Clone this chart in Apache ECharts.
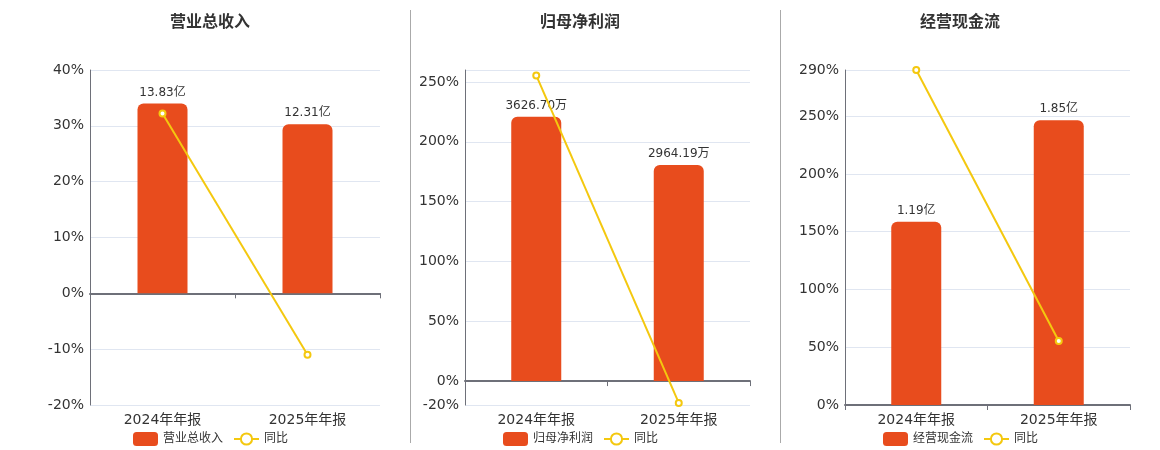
<!DOCTYPE html>
<html><head><meta charset="utf-8">
<script src="https://cdn.jsdelivr.net/npm/echarts@6/dist/echarts.min.js"></script>
<style>html,body{margin:0;padding:0;background:#fff}#c{width:1160px;height:450px}</style>
</head><body><div id="c"></div>
<script>
const categories = ['2024年年报', '2025年年报'];
const titles = ['营业总收入', '归母净利润', '经营现金流'];
const units = ['亿', '万', '亿'];
const revenue = [13.83, 12.31];
const netProfit = [3626.70, 2964.19];
const cashFlow = [1.19, 1.85];
const revenueYoY = [32.2, -10.99];
const netProfitYoY = [255.5, -18.27];
const cashFlowYoY = [290, 55.46];
const pctMin = [-20, -20, 0];
const pctMax = [40, 260, 290];

const barData = [revenue, netProfit, cashFlow];
const yoyData = [revenueYoY, netProfitYoY, cashFlowYoY];
const gridLeft = [90, 465, 845];
const gridWidth = [290, 285, 285];
const centers = [210, 580, 960];
const FONT = 'DejaVu Sans, "Noto Sans CJK SC", sans-serif';
const BAR = '#e84c1d', LINE = '#f4c80f';

const option = {
  animation: false,
  textStyle: {fontFamily: FONT},
  title: [], legend: [], grid: [], xAxis: [], yAxis: [], series: [],
  graphic: [
    {type: 'line', shape: {x1: 410.5, y1: 10, x2: 410.5, y2: 443}, style: {stroke: '#aaaaaa', lineWidth: 1}},
    {type: 'line', shape: {x1: 780.5, y1: 10, x2: 780.5, y2: 443}, style: {stroke: '#aaaaaa', lineWidth: 1}}
  ]
};

for (let i = 0; i < 3; i++) {
  const bmax = Math.max(...barData[i]) / 0.85;
  const bmin = bmax * pctMin[i] / pctMax[i];
  option.title.push({text: titles[i], left: centers[i], top: 15, textAlign: 'center', padding: 0,
    textStyle: {fontSize: 16, fontWeight: 'bold', color: '#333', fontFamily: FONT}});
  option.legend.push({data: [titles[i], '同比'], left: centers[i] - 82, top: 427,
    itemWidth: 25, itemHeight: 14, itemGap: 10,
    textStyle: {fontSize: 12, color: '#333', fontFamily: FONT}});
  option.grid.push({left: gridLeft[i], width: gridWidth[i], top: 70, height: 335});
  option.xAxis.push({type: 'category', gridIndex: i, data: categories,
    axisLine: {onZero: true, lineStyle: {color: '#6e7079', width: 2}},
    axisTick: {show: true, lineStyle: {color: '#6e7079'}},
    axisLabel: {fontSize: 14, color: '#333', margin: 8, fontFamily: FONT}});
  option.yAxis.push({type: 'value', gridIndex: i, min: pctMin[i], max: pctMax[i],
    axisLine: {show: true, lineStyle: {color: '#6e7079'}},
    axisTick: {show: false},
    splitLine: {lineStyle: {color: '#e0e6f1'}},
    axisLabel: {fontSize: 14, color: '#333', margin: 6, fontFamily: FONT,
      formatter: '{value}%', showMaxLabel: i === 1 ? false : true}});
  option.yAxis.push({type: 'value', gridIndex: i, min: bmin, max: bmax, show: false,
    splitLine: {show: false}});
  option.series.push({name: titles[i], type: 'bar', xAxisIndex: i, yAxisIndex: 2 * i + 1,
    data: barData[i], barWidth: 50,
    itemStyle: {color: BAR, borderRadius: [6, 6, 0, 0]},
    label: {show: true, position: 'top', fontSize: 12, color: '#333', fontFamily: FONT,
      formatter: (p) => p.value.toFixed(2) + units[i]}});
  option.series.push({name: '同比', type: 'line', xAxisIndex: i, yAxisIndex: 2 * i,
    data: yoyData[i], symbol: 'emptyCircle', symbolSize: 6, z: 5,
    lineStyle: {color: LINE, width: 2}, itemStyle: {color: LINE, borderWidth: 2}});
}

const chart = echarts.init(document.getElementById('c'), null, {renderer: 'canvas'});
chart.setOption(option);
</script></body></html>
